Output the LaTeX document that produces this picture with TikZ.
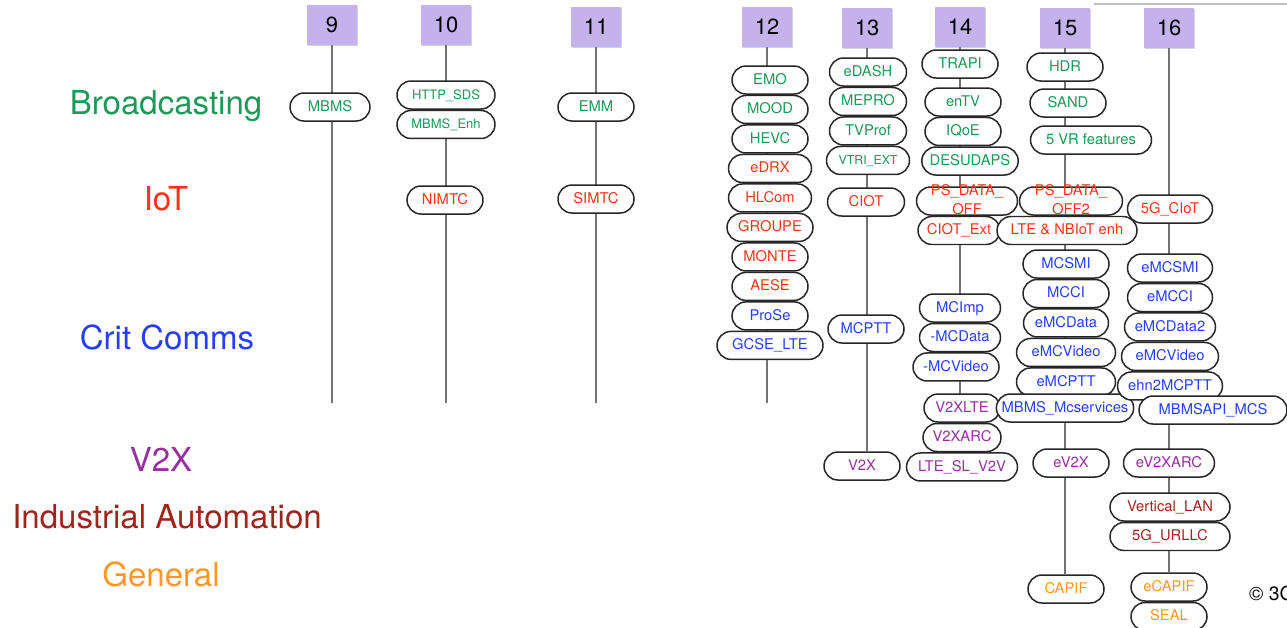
\documentclass[tikz,border=0pt]{standalone}
\usepackage{fontspec}
\setmainfont{TeX Gyre Heros}
\usepackage{xcolor}
\usepackage{tikz}
\usetikzlibrary{positioning,shadows,backgrounds}
\definecolor{bcast}{RGB}{28,152,88}
\definecolor{iotred}{RGB}{250,52,28}
\definecolor{critblue}{RGB}{38,62,250}
\definecolor{vtwox}{RGB}{150,48,160}
\definecolor{indred}{RGB}{158,36,28}
\definecolor{genorange}{RGB}{255,152,30}
\definecolor{relbox}{RGB}{196,178,236}
\tikzstyle{pill}=  [draw=black!85,
line width=0.85pt,
fill=white,
rounded corners=0.28cm,
minimum width=1.52cm,
minimum height=0.56cm,
inner xsep=4.5pt,
inner ysep=0pt,
text height=7pt,
text depth=2pt,
font=\fontsize{8.4}{9}\selectfont,
]
\tikzstyle{rel}=   [fill=relbox,
minimum width=1cm,
minimum height=0.8cm,
drop shadow={shadow xshift=0.6pt,shadow yshift=-0.8pt,opacity=0.35},
font=\fontsize{12.5}{14}\selectfont,
]
\tikzstyle{cat}=   [font=\fontsize{18.8}{20}\selectfont]
\tikzstyle{stem}=  [draw=black!55,
line width=1.2pt,]
\begin{document}
\begin{tikzpicture}[x=0.02cm, y=-0.02cm]
        \useasboundingbox (0,0) rectangle (1287,627);
        % categories
        \node[cat, text=bcast] (broadcasting) at (166,106) {Broadcasting};
        \node[cat, text=iotred] (iot) at (166,199) {IoT};
        \node[cat, text=critblue] (critcomms) at (167,337) {Crit Comms};
        \node[cat, text=vtwox] (vtwoxcat) at (161,459) {V2X};
        \node[cat, text=indred] (industrial) at (167,517) {Industrial Automation};
        \node[cat, text=genorange] (general) at (161,574) {General};

        % releases
        \node[rel] (r9) at (332,25) {9};
        \node[rel] (r10) at (446,25) {10};
        \node[rel] (r11) at (596,27) {11};
        \node[rel] (r12) at (767,27) {12};
        \node[rel] (r13) at (867,28) {13};
        \node[rel] (r14) at (960,27) {14};
        \node[rel] (r15) at (1065,28) {15};
        \node[rel] (r16) at (1169,28) {16};
        \coordinate (end9) at (332,403);
        \coordinate (end10) at (446,403);
        \coordinate (end11) at (596,403);
        \coordinate (end12) at (767,403);

        % rel 9 - 11
        \node[pill, text=bcast, minimum width=1.6cm] (mbms) at (330,107) {MBMS};
        \node[pill, text=bcast, minimum width=1.96cm, font=\fontsize{7.4}{9}\selectfont] (httpsds) at (446,95) {HTTP\_SDS};
        \node[pill, text=bcast, minimum width=1.96cm, font=\fontsize{7.4}{9}\selectfont, below=0pt of httpsds] (mbmsenh) {MBMS\_Enh};
        \node[pill, text=iotred] (nimtc) at (445,200) {NIMTC};
        \node[pill, text=bcast] (emm) at (596,107) {EMM};
        \node[pill, text=iotred] (simtc) at (596,199) {SIMTC};

        % rel 12
        \node[pill, text=bcast] (emo) at (770,80) {EMO};
        \node[pill, text=bcast, below=0pt of emo] (mood) {MOOD};
        \node[pill, text=bcast, below=0pt of mood] (hevc) {HEVC};
        \node[pill, text=iotred, minimum width=1.66cm, below=0pt of hevc] (edrx) {eDRX};
        \node[pill, text=iotred, minimum width=1.66cm, below=0pt of edrx] (hlcom) {HLCom};
        \node[pill, text=iotred, minimum width=1.72cm, below=0pt of hlcom] (groupe) {GROUPE};
        \node[pill, text=iotred, below=0pt of groupe] (monte) {MONTE};
        \node[pill, text=iotred, below=0pt of monte] (aese) {AESE};
        \node[pill, text=critblue, below=0pt of aese] (prose) {ProSe};
        \node[pill, text=critblue, minimum width=2.12cm, below=0pt of prose] (gcselte) {GCSE\_LTE};

        % rel 13
        \node[pill, text=bcast, minimum width=1.54cm] (edash) at (868,72) {eDASH};
        \node[pill, text=bcast, minimum width=1.54cm, below=0pt of edash] (mepro) {MEPRO};
        \node[pill, text=bcast, minimum width=1.54cm, below=0pt of mepro] (tvprof) {TVProf};
        \node[pill, text=bcast, minimum width=1.66cm, font=\fontsize{7}{9}\selectfont, below=0pt of tvprof] (vtriext) {VTRI\_EXT};
        \node[pill, text=iotred, minimum width=1.54cm] (ciot) at (866,202) {CIOT};
        \node[pill, text=critblue] (mcptt) at (866,329) {MCPTT};
        \node[pill, text=vtwox] (vtwoxn) at (862,466) {V2X};

        % rel 14
        \node[pill, text=bcast] (trapi) at (960,64) {TRAPI};
        \node[pill, text=bcast] (entv) at (963,102) {enTV};
        \node[pill, text=bcast, below=0pt of entv] (iqoe) {IQoE};
        \node[pill, text=bcast] (desudaps) at (970,161) {DESUDAPS};
        \node[pill, text=iotred, minimum width=2.02cm] (psdataoff) at (967,201)
            {\smash{\raisebox{-5pt}{\shortstack{PS\_DATA\_\\OFF}}}};
        \node[pill, text=iotred, minimum width=1.64cm, below=0pt of psdataoff, xshift=-0.16cm] (ciotext) {CIOT\_Ext};
        \node[pill, text=critblue, minimum width=1.62cm] (mcimp) at (960,308) {MCImp};
        \node[pill, text=critblue, minimum width=1.62cm, below=0pt of mcimp] (mcdata) {-MCData};
        \node[pill, text=critblue, minimum width=1.72cm, below=0pt of mcdata, xshift=-0.08cm] (mcvideo) {-MCVideo};
        \node[pill, text=vtwox] (vtwoxlte) at (962,408) {V2XLTE};
        \node[pill, text=vtwox, minimum width=1.56cm, below=0pt of vtwoxlte] (vtwoxarc) {V2XARC};
        \node[pill, text=vtwox, minimum width=2.22cm, below=0pt of vtwoxarc] (lteslv2v) {LTE\_SL\_V2V};

        % rel 15
        \node[pill, text=bcast] (hdr) at (1065,67) {HDR};
        \node[pill, text=bcast] (sand) at (1068,103) {SAND};
        \node[pill, text=bcast, minimum width=2.42cm] (vrfeat) at (1091,140) {5 VR features};
        \node[pill, text=iotred, minimum width=2.06cm] (psdataofftwo) at (1071,201)
            {\smash{\raisebox{-5pt}{\shortstack{PS\_DATA\_\\OFF2}}}};
        \node[pill, text=iotred, minimum width=2.8cm, below=0pt of psdataofftwo, xshift=-0.08cm] (ltenbiot) {LTE \& NBIoT enh};
        \node[pill, text=critblue, minimum width=1.72cm] (mcsmi) at (1066,264) {MCSMI};
        \node[pill, text=critblue, minimum width=1.72cm, below=0pt of mcsmi] (mcci) {MCCI};
        \node[pill, text=critblue, minimum width=1.7cm, below=0pt of mcci] (emcdata) {eMCData};
        \node[pill, text=critblue, minimum width=1.98cm, below=0pt of emcdata] (emcvideo) {eMCVideo};
        \node[pill, text=critblue, minimum width=1.98cm, below=0pt of emcvideo] (emcptt) {eMCPTT};
        \node[pill, text=critblue, inner xsep=3pt] (mbmsmcs) at (1065,408) {MBMS\_Mcservices};
        \node[pill, text=vtwox] (evtwox) at (1071,463) {eV2X};
        \node[pill, text=genorange] (capif) at (1066,589) {CAPIF};

        % rel 16
        \node[pill, text=iotred, minimum width=1.7cm] (fivegciot) at (1170,209) {5G\_CIoT};
        \node[pill, text=critblue, minimum width=1.7cm] (emcsmi) at (1170,268) {eMCSMI};
        \node[pill, text=critblue, minimum width=1.7cm, below=0pt of emcsmi] (emcci) {eMCCI};
        \node[pill, text=critblue, minimum width=1.82cm, below=0pt of emcci] (emcdatatwo) {eMCData2};
        \node[pill, text=critblue, minimum width=1.94cm, below=0pt of emcdatatwo] (emcvideotwo) {eMCVideo};
        \node[pill, text=critblue, minimum width=2.1cm, below=0pt of emcvideotwo] (ehnmcptt) {ehn2MCPTT};
        \node[pill, text=critblue, minimum width=2.96cm] (mbmsapi) at (1213,410) {MBMSAPI\_MCS};
        \node[pill, text=vtwox, minimum width=1.82cm] (evtwoxarc) at (1169,463) {eV2XARC};
        \node[pill, text=indred, minimum width=2.4cm] (vertlan) at (1170,507) {Vertical\_LAN};
        \node[pill, text=indred, minimum width=2.4cm, below=0pt of vertlan] (urllc) {5G\_URLLC};
        \node[pill, text=genorange] (ecapif) at (1169,587) {eCAPIF};
        \node[pill, text=genorange, below=0pt of ecapif] (seal) {SEAL};

        \node[anchor=west, font=\fontsize{11}{12}\selectfont] (copyr) at (1243,593) {\textcopyright{} 3GPP};
        \draw[black!25, line width=0.8pt] (1094,4) -- (1287,4);

        \begin{scope}[on background layer]
        \draw[stem] (r9.south) -- (end9);
        \draw[stem] (r10.south) -- (end10);
        \draw[stem] (r11.south) -- (end11);
        \draw[stem] (r12.south) -- (end12);
        \draw[stem] (r13.south) -- (r13 |- vtwoxn.north);
        \draw[stem] (r14.south) -- (r14 |- lteslv2v.north);
        \draw[stem] (r15.south) -- (r15 |- capif.north);
        \draw[stem] (r16.south) -- (r16 |- ecapif.north);
        \end{scope}
    \end{tikzpicture}
\end{document}
